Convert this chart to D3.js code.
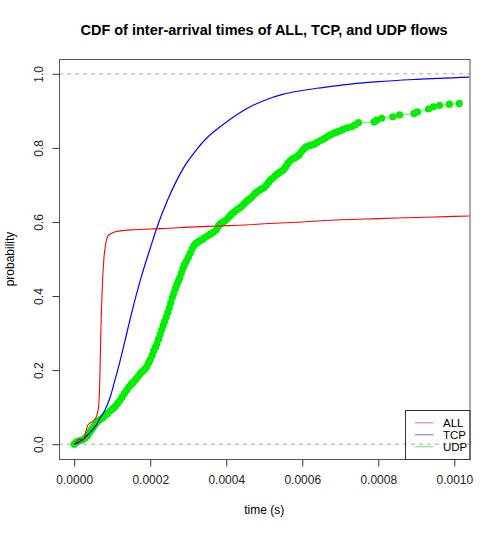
<!DOCTYPE html>
<meta charset="utf-8">
<script src="https://d3js.org/d3.v7.min.js"></script>
<style>
  body { margin: 0; background: #fff; }
  svg text { font-family: "Liberation Sans", Arial, sans-serif; }
</style>
<body>
<div id="chart"></div>
<script>
var allX = [0, 0.05, 0.1, 0.25, 0.3, 0.35, 0.4, 0.5, 0.55, 0.6, 0.64, 0.67, 0.69, 0.71, 0.73, 0.75, 0.78, 0.82, 0.86, 0.9, 1.0, 1.1, 1.3, 1.6, 2.0, 2.5, 3.0, 3.5, 4.0, 4.5, 5.0, 6.0, 7.0, 8.0, 9.0, 10.0, 10.4];
var allY = [0, 0.005, 0.012, 0.014, 0.03, 0.05, 0.056, 0.062, 0.068, 0.08, 0.1, 0.16, 0.25, 0.34, 0.4, 0.45, 0.5, 0.535, 0.555, 0.563, 0.57, 0.574, 0.577, 0.579, 0.581, 0.583, 0.586, 0.588, 0.59, 0.592, 0.595, 0.6, 0.606, 0.609, 0.612, 0.615, 0.616];

var tcpX = [0, 0.2, 0.4, 0.6, 0.68, 0.8, 0.95, 1.05, 1.17, 1.34, 1.5, 1.74, 2.0, 2.17, 2.44, 2.7, 2.9, 3.18, 3.5, 3.84, 4.2, 4.63, 5.0, 5.5, 6.0, 6.38, 7.0, 7.52, 8.0, 9.0, 10.4];
var tcpY = [0, 0.01, 0.03, 0.055, 0.07, 0.09, 0.128, 0.165, 0.21, 0.281, 0.35, 0.443, 0.529, 0.583, 0.655, 0.713, 0.75, 0.79, 0.828, 0.857, 0.884, 0.911, 0.928, 0.945, 0.955, 0.961, 0.969, 0.975, 0.979, 0.985, 0.991];

var udpX = [0, 0.05, 0.1, 0.16, 0.22, 0.28, 0.34, 0.38, 0.42, 0.46, 0.5, 0.55, 0.6, 0.65, 0.7, 0.76, 0.82, 0.88, 0.95, 1.02, 1.08, 1.14, 1.2, 1.26, 1.32, 1.38, 1.44, 1.5, 1.56, 1.62, 1.68, 1.74, 1.8, 1.86, 1.91, 1.96, 2.0, 2.05, 2.09, 2.14, 2.18, 2.22, 2.26, 2.3, 2.34, 2.38, 2.42, 2.46, 2.5, 2.54, 2.58, 2.62, 2.66, 2.7, 2.74, 2.78, 2.82, 2.86, 2.9, 2.95, 3.0, 3.05, 3.1, 3.15, 3.2, 3.26, 3.3, 3.36, 3.42, 3.5, 3.58, 3.66, 3.74, 3.8, 3.86, 3.92, 3.98, 4.04, 4.1, 4.16, 4.22, 4.28, 4.34, 4.4, 4.46, 4.52, 4.58, 4.64, 4.7, 4.76, 4.82, 4.88, 4.94, 5.0, 5.06, 5.12, 5.18, 5.24, 5.3, 5.36, 5.42, 5.5, 5.56, 5.62, 5.68, 5.74, 5.8, 5.86, 5.92, 5.98, 6.04, 6.1, 6.18, 6.26, 6.34, 6.4, 6.48, 6.56, 6.62, 6.7, 6.76, 6.84, 6.92, 7.0, 7.07, 7.18, 7.3, 7.39, 7.48, 7.89, 7.96, 8.09, 8.38, 8.56, 8.94, 9.03, 9.32, 9.45, 9.61, 9.87, 10.13, 10.33, 10.5];
var udpY = [0, 0.005, 0.008, 0.01, 0.012, 0.016, 0.022, 0.028, 0.034, 0.04, 0.046, 0.053, 0.06, 0.064, 0.068, 0.072, 0.078, 0.083, 0.09, 0.096, 0.102, 0.11, 0.118, 0.127, 0.137, 0.146, 0.155, 0.162, 0.168, 0.175, 0.183, 0.191, 0.197, 0.203, 0.21, 0.22, 0.228, 0.24, 0.252, 0.262, 0.272, 0.284, 0.296, 0.308, 0.32, 0.332, 0.343, 0.355, 0.368, 0.382, 0.396, 0.408, 0.42, 0.43, 0.44, 0.45, 0.462, 0.474, 0.484, 0.494, 0.504, 0.515, 0.527, 0.536, 0.542, 0.546, 0.549, 0.552, 0.557, 0.562, 0.567, 0.572, 0.579, 0.59, 0.596, 0.6, 0.604, 0.61, 0.617, 0.623, 0.628, 0.633, 0.637, 0.642, 0.648, 0.654, 0.66, 0.664, 0.67, 0.677, 0.682, 0.686, 0.69, 0.693, 0.7, 0.708, 0.715, 0.72, 0.726, 0.731, 0.735, 0.74, 0.748, 0.758, 0.765, 0.77, 0.773, 0.777, 0.781, 0.79, 0.797, 0.803, 0.806, 0.808, 0.811, 0.815, 0.82, 0.824, 0.828, 0.833, 0.836, 0.84, 0.843, 0.846, 0.85, 0.854, 0.857, 0.862, 0.868, 0.87, 0.875, 0.88, 0.884, 0.889, 0.893, 0.897, 0.905, 0.911, 0.915, 0.918, 0.92];

var xTicks = [0, 2, 4, 6, 8, 10];
var xTickLabels = ["0.0000", "0.0002", "0.0004", "0.0006", "0.0008", "0.0010"];
var yTicks = [0, 0.2, 0.4, 0.6, 0.8, 1.0];
var yTickLabels = ["0.0", "0.2", "0.4", "0.6", "0.8", "1.0"];

var legendNames = ["ALL", "TCP", "UDP"];
var legendColors = ["#ff8c8c", "#8c8cff", "#8ce88c"];

var width = 500, height = 533;
var margin = {top: 59, right: 30.5, bottom: 74, left: 59};
var plotW = width - margin.left - margin.right;
var plotH = height - margin.top - margin.bottom;

var svg = d3.select("#chart").append("svg")
    .attr("width", width)
    .attr("height", height);

// R style: 4% padding around the data range
var x = d3.scaleLinear().domain([-0.4, 10.4]).range([margin.left, margin.left + plotW]);
var y = d3.scaleLinear().domain([-0.04, 1.04]).range([margin.top + plotH, margin.top]);

svg.append("defs").append("clipPath").attr("id", "plotclip")
  .append("rect")
    .attr("x", margin.left).attr("y", margin.top)
    .attr("width", plotW).attr("height", plotH);

var plot = svg.append("g").attr("clip-path", "url(#plotclip)");

// reference lines at 0 and 1
plot.selectAll("line.ref")
  .data([0, 1])
  .join("line")
    .attr("class", "ref")
    .attr("x1", margin.left).attr("x2", margin.left + plotW)
    .attr("y1", d => y(d)).attr("y2", d => y(d))
    .attr("stroke", "#a8a8a8")
    .attr("stroke-dasharray", "4,4");

function series(xs, ys) {
  return xs.map((d, i) => ({x: d, y: ys[i]}));
}

var line = d3.line().x(d => x(d.x)).y(d => y(d.y));
var smooth = d3.line().x(d => x(d.x)).y(d => y(d.y)).curve(d3.curveMonotoneX);

var udp = series(udpX, udpY);
plot.append("path")
    .attr("d", line(udp))
    .attr("fill", "none")
    .attr("stroke", "#90ee90")
    .attr("stroke-width", 1.5);
plot.selectAll("circle.udp")
  .data(udp)
  .join("circle")
    .attr("class", "udp")
    .attr("cx", d => x(d.x))
    .attr("cy", d => y(d.y))
    .attr("r", 3.6)
    .attr("fill", "#00ee00");

plot.append("path")
    .attr("d", smooth(series(tcpX, tcpY)))
    .attr("fill", "none")
    .attr("stroke", "#0000ff")
    .attr("stroke-width", 1.2);

plot.append("path")
    .attr("d", smooth(series(allX, allY)))
    .attr("fill", "none")
    .attr("stroke", "#ff0000")
    .attr("stroke-width", 1.1);

// box
svg.append("rect")
    .attr("x", margin.left + 0.5).attr("y", margin.top + 0.5)
    .attr("width", plotW).attr("height", plotH)
    .attr("fill", "none")
    .attr("stroke", "#555");

// x axis
var xAxis = d3.axisBottom(x)
    .tickValues(xTicks)
    .tickFormat((d, i) => xTickLabels[i])
    .tickSize(7)
    .tickPadding(9);
var gx = svg.append("g")
    .attr("transform", "translate(0," + (margin.top + plotH + 0.5) + ")")
    .call(xAxis);
gx.select(".domain").remove();
gx.selectAll("line").attr("stroke", "#333");
gx.selectAll("text").attr("font-size", 12).attr("fill", "#222")
    .attr("font-family", "Liberation Sans, Arial, sans-serif");

// y axis, labels rotated like R's default
var yAxis = d3.axisLeft(y)
    .tickValues(yTicks)
    .tickFormat((d, i) => yTickLabels[i])
    .tickSize(7);
var gy = svg.append("g")
    .attr("transform", "translate(" + (margin.left + 0.5) + ",0)")
    .call(yAxis);
gy.select(".domain").remove();
gy.selectAll("line").attr("stroke", "#333");
gy.selectAll("text")
    .attr("font-size", 12).attr("fill", "#222")
    .attr("font-family", "Liberation Sans, Arial, sans-serif")
    .attr("x", null)
    .attr("text-anchor", "middle")
    .attr("transform", "translate(-21,0) rotate(-90)")
    .attr("dy", "0.35em");

// titles
svg.append("text")
    .attr("x", 264)
    .attr("y", 35)
    .attr("text-anchor", "middle")
    .attr("font-size", 14.5)
    .attr("font-weight", "bold")
    .text("CDF of inter-arrival times of ALL, TCP, and UDP flows");

svg.append("text")
    .attr("x", margin.left + plotW / 2)
    .attr("y", 514)
    .attr("text-anchor", "middle")
    .attr("font-size", 12)
    .text("time (s)");

svg.append("text")
    .attr("transform", "translate(14," + (margin.top + plotH / 2) + ") rotate(-90)")
    .attr("text-anchor", "middle")
    .attr("font-size", 12)
    .text("probability");

// legend in the bottom right corner
var lg = svg.append("g");
lg.append("rect")
    .attr("x", 405.5).attr("y", 410.5)
    .attr("width", margin.left + plotW - 405).attr("height", margin.top + plotH - 410)
    .attr("fill", "none")
    .attr("stroke", "#333");
var items = lg.selectAll("g.item")
  .data(legendNames)
  .join("g")
    .attr("class", "item")
    .attr("transform", (d, i) => "translate(0," + (422.7 + i * 12) + ")");
items.append("line")
    .attr("x1", 415).attr("x2", 433.5)
    .attr("stroke", (d, i) => legendColors[i])
    .attr("stroke-width", 1.3);
items.append("text")
    .attr("x", 443)
    .attr("dy", "0.35em")
    .attr("font-size", 11.5)
    .text(d => d);
</script>
</body>
